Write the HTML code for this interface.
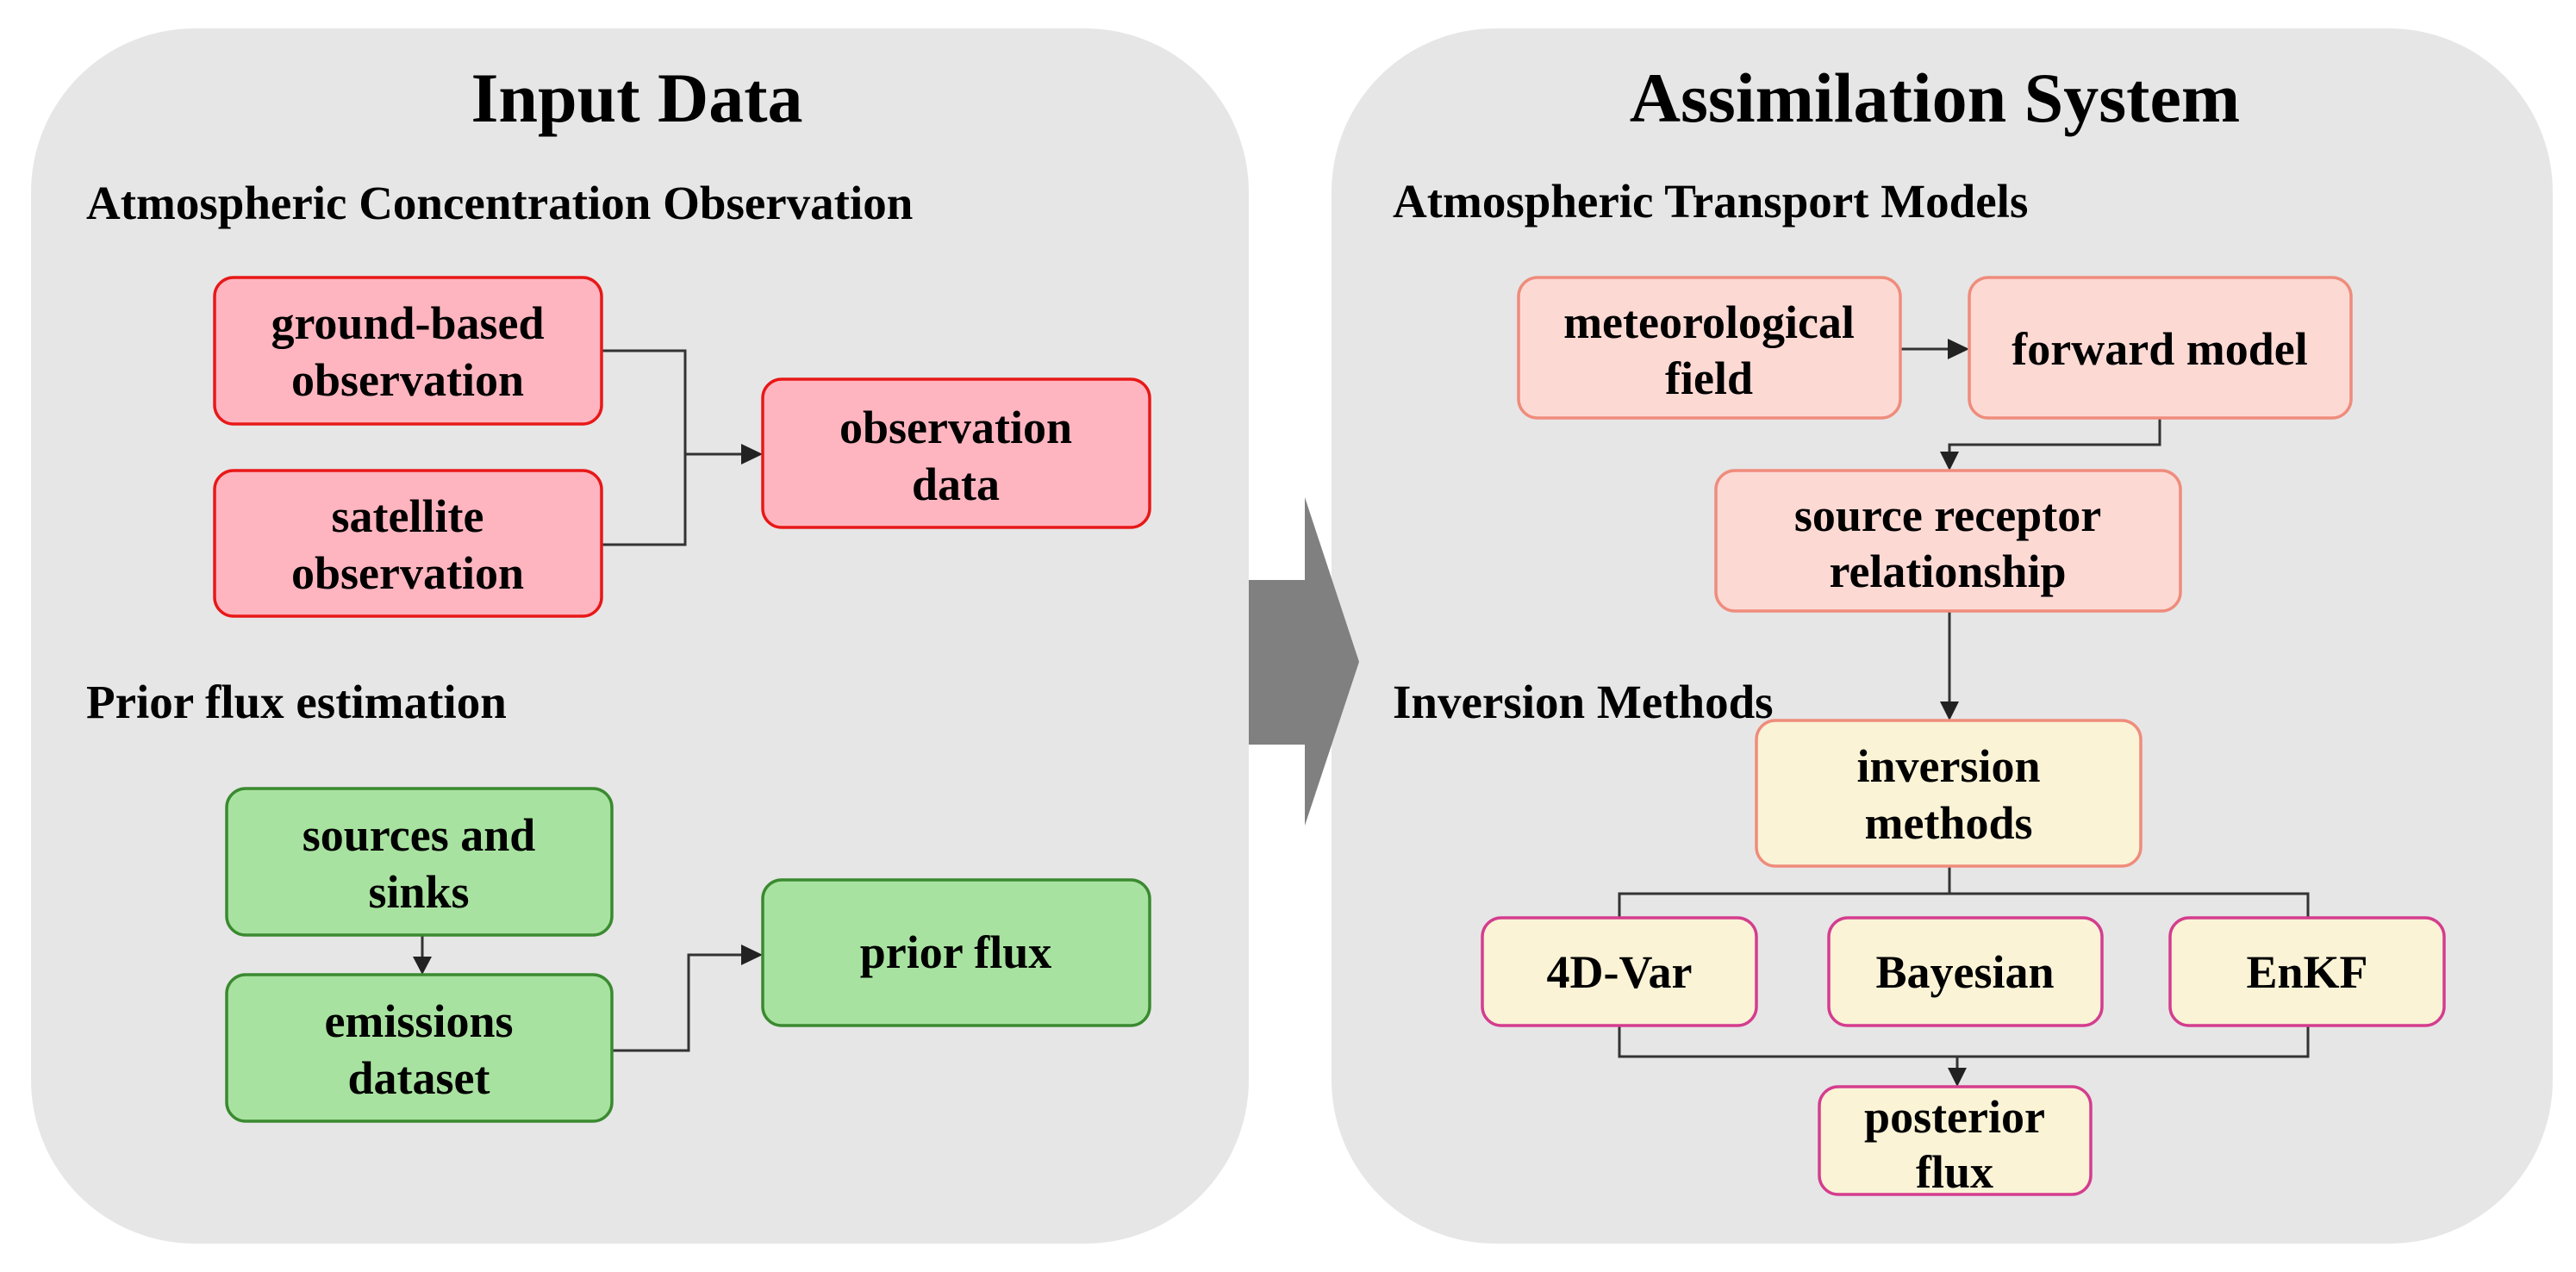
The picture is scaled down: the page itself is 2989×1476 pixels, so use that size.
<!DOCTYPE html>
<html><head><meta charset="utf-8"><style>
html,body{margin:0;padding:0;background:#fff;}
svg{display:block;}
text{font-family:"Liberation Serif",serif;font-weight:bold;fill:#000;}
</style></head><body>
<svg width="2989" height="1476" viewBox="0 0 2989 1476" xmlns="http://www.w3.org/2000/svg">
<rect x="36" y="33" width="1413" height="1410" rx="190" fill="#e6e6e6"/>
<rect x="1545" y="33" width="1417" height="1410" rx="190" fill="#e6e6e6"/>
<polygon points="1449,673 1514,673 1514,577 1577,768 1514,958 1514,864 1449,864" fill="#808080"/>

<text x="739" y="141" font-size="82" text-anchor="middle">Input Data</text>
<text x="2245" y="141" font-size="82" text-anchor="middle">Assimilation System</text>
<text x="100" y="254" font-size="55">Atmospheric Concentration Observation</text>
<text x="100" y="833" font-size="55">Prior flux estimation</text>
<text x="1616" y="252" font-size="55">Atmospheric Transport Models</text>
<text x="1616" y="833" font-size="55">Inversion Methods</text>

<g fill="none" stroke="#333" stroke-width="3">
<polyline points="698,407 795,407 795,632 698,632"/>
<line x1="795" y1="527" x2="862" y2="527"/>
<line x1="490" y1="1085" x2="490" y2="1112"/>
<polyline points="710,1219 799,1219 799,1108 862,1108"/>
<line x1="2205" y1="405" x2="2262" y2="405"/>
<polyline points="2506,485 2506,516 2262,516 2262,526"/>
<line x1="2262" y1="709" x2="2262" y2="816"/>
<polyline points="2262,1005 2262,1037"/>
<polyline points="1879,1065 1879,1037 2678,1037 2678,1065"/>
<polyline points="1879,1190 1879,1226 2678,1226 2678,1190"/>
<line x1="2271" y1="1226" x2="2271" y2="1240"/>
</g>
<g fill="#222">
<polygon points="885,527 860,515 860,539"/>
<polygon points="490,1131 479,1110 501,1110"/>
<polygon points="885,1108 860,1096 860,1120"/>
<polygon points="2285,405 2260,393 2260,417"/>
<polygon points="2262,546 2251,524 2273,524"/>
<polygon points="2262,836 2251,814 2273,814"/>
<polygon points="2271,1261 2260,1239 2282,1239"/>
</g>

<g stroke-width="3.5">
<rect x="249" y="322" width="449" height="170" rx="22" fill="#ffb5c0" stroke="#e81818"/>
<rect x="249" y="546" width="449" height="169" rx="22" fill="#ffb5c0" stroke="#e81818"/>
<rect x="885" y="440" width="449" height="172" rx="22" fill="#ffb5c0" stroke="#e81818"/>
<rect x="263" y="915" width="447" height="170" rx="22" fill="#a8e2a0" stroke="#3a8a30"/>
<rect x="263" y="1131" width="447" height="170" rx="22" fill="#a8e2a0" stroke="#3a8a30"/>
<rect x="885" y="1021" width="449" height="169" rx="22" fill="#a8e2a0" stroke="#3a8a30"/>
<rect x="1762" y="322" width="443" height="163" rx="22" fill="#fdd9d4" stroke="#ef8c7c"/>
<rect x="2285" y="322" width="443" height="163" rx="22" fill="#fdd9d4" stroke="#ef8c7c"/>
<rect x="1991" y="546" width="539" height="163" rx="22" fill="#fdd9d4" stroke="#ef8c7c"/>
<rect x="2038" y="836" width="446" height="169" rx="22" fill="#faf3d6" stroke="#ef8c7c"/>
<rect x="1720" y="1065" width="318" height="125" rx="22" fill="#faf3d6" stroke="#d43d8e"/>
<rect x="2122" y="1065" width="317" height="125" rx="22" fill="#faf3d6" stroke="#d43d8e"/>
<rect x="2518" y="1065" width="318" height="125" rx="22" fill="#faf3d6" stroke="#d43d8e"/>
<rect x="2111" y="1261" width="315" height="125" rx="22" fill="#faf3d6" stroke="#d43d8e"/>
</g>

<g font-size="54" text-anchor="middle">
<text x="473" y="393">ground-based</text><text x="473" y="459">observation</text>
<text x="473" y="617">satellite</text><text x="473" y="683">observation</text>
<text x="1109" y="514">observation</text><text x="1109" y="580">data</text>
<text x="486" y="987">sources and</text><text x="486" y="1053">sinks</text>
<text x="486" y="1203">emissions</text><text x="486" y="1269">dataset</text>
<text x="1109" y="1123">prior flux</text>
<text x="1983" y="392">meteorological</text><text x="1983" y="457">field</text>
<text x="2506" y="423">forward model</text>
<text x="2260" y="616">source receptor</text><text x="2260" y="681">relationship</text>
<text x="2261" y="907">inversion</text><text x="2261" y="973">methods</text>
<text x="1879" y="1146">4D-Var</text>
<text x="2280" y="1146">Bayesian</text>
<text x="2677" y="1146">EnKF</text>
<text x="2268" y="1314">posterior</text><text x="2268" y="1378">flux</text>
</g>
</svg>
</body></html>
